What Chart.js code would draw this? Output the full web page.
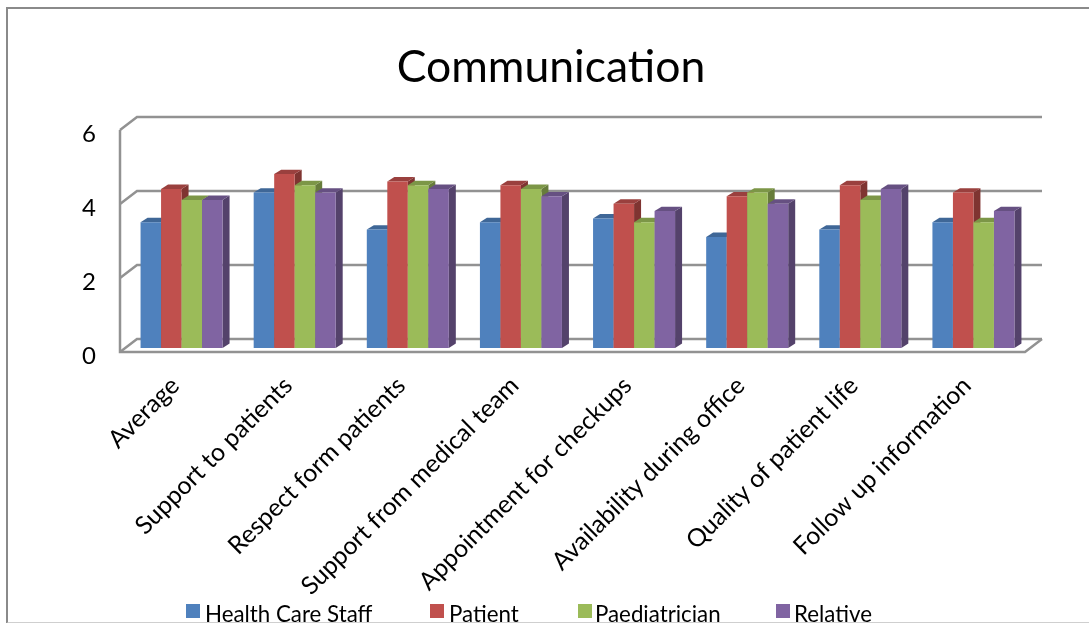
<!DOCTYPE html>
<html>
<head>
<meta charset="utf-8">
<style>
  html, body { margin: 0; padding: 0; background: #fff; overflow: hidden; }
  #frame { position: absolute; left: 6px; top: 7px; width: 1200px; height: 613px; border: 2px solid #8a8a8a; border-bottom-color: #cfcfcf; }
  canvas { position: absolute; left: 0; top: 0; }
</style>
<script src="https://cdn.jsdelivr.net/npm/chart.js@4"></script>
</head>
<body>
<div id="frame"></div>
<canvas id="chart" width="1089" height="623"></canvas>
<script>
const categories = ["Average", "Support to patients", "Respect form patients", "Support from medical team",
  "Appointment for checkups", "Availability during office", "Quality of patient life", "Follow up information"];
const healthCareStaff = [3.4, 4.2, 3.2, 3.4, 3.5, 3.0, 3.2, 3.4];
const patient         = [4.3, 4.7, 4.5, 4.4, 3.9, 4.1, 4.4, 4.2];
const paediatrician   = [4.0, 4.4, 4.4, 4.3, 3.4, 4.2, 4.0, 3.4];
const relative        = [4.0, 4.2, 4.3, 4.1, 3.7, 3.9, 4.3, 3.7];
const yTicks = [0, 2, 4, 6];

const FONT = "Lato, 'Open Sans', sans-serif";

// Face colours of the extruded bars.
const faces = {
  blue:   { front: "#4F81BD", top: "#3F6797", side: "#35577F" },
  red:    { front: "#C0504D", top: "#9A403E", side: "#7F3431" },
  green:  { front: "#9BBB59", top: "#7C9647", side: "#677C3B" },
  purple: { front: "#8064A2", top: "#665082", side: "#54426B" }
};

// Depth of each bar, and of the floor and back wall relative to the bar plane.
const BAR_DEPTH = { x: 7, y: -4.4 };
const FRONT = { x: -5, y: 4 };
const BACK = { x: 12, y: -9 };
const LEGEND_MARKS = [186, 430, 578, 776];
const LEGEND_TEXTS = [205, 449, 595, 794];

function drawBarDepth(ctx, bar, shade) {
  const { x, y, base, width } = bar.getProps(["x", "y", "base", "width"]);
  const l = x - width / 2, r = x + width / 2;
  ctx.fillStyle = shade.side;
  ctx.beginPath();
  ctx.moveTo(r, y);
  ctx.lineTo(r + BAR_DEPTH.x, y + BAR_DEPTH.y);
  ctx.lineTo(r + BAR_DEPTH.x, base + BAR_DEPTH.y);
  ctx.lineTo(r, base);
  ctx.closePath();
  ctx.fill();
  ctx.fillStyle = shade.top;
  ctx.beginPath();
  ctx.moveTo(l, y);
  ctx.lineTo(l + BAR_DEPTH.x, y + BAR_DEPTH.y);
  ctx.lineTo(r + BAR_DEPTH.x, y + BAR_DEPTH.y);
  ctx.lineTo(r, y);
  ctx.closePath();
  ctx.fill();
}

const wallPlugin = {
  id: "walls",
  // Floor and wall lines come from the value scale's ticks; the series then
  // paint left to right so each bar's depth faces hide behind its neighbour.
  beforeDatasetsDraw(chart) {
    const { ctx, chartArea: a, scales: { y } } = chart;
    ctx.save();
    ctx.strokeStyle = "#929292";
    ctx.lineWidth = 2.5;
    const fx = a.left + FRONT.x, bx = a.left + BACK.x, rx = a.right + BACK.x;
    yTicks.forEach(v => {
      const p = y.getPixelForValue(v);
      ctx.beginPath();
      ctx.moveTo(fx, p + FRONT.y);
      ctx.lineTo(bx, p + BACK.y);
      ctx.lineTo(rx, p + BACK.y);
      ctx.stroke();
    });
    const p0 = y.getPixelForValue(0), p6 = y.getPixelForValue(6);
    ctx.beginPath();
    ctx.moveTo(fx, p6 + FRONT.y);
    ctx.lineTo(fx, p0 + FRONT.y);
    ctx.lineTo(a.right + FRONT.x, p0 + FRONT.y);
    ctx.lineTo(rx, p0 + BACK.y);
    ctx.stroke();

    chart.data.datasets.forEach((d, i) => {
      const meta = chart.getDatasetMeta(i);
      meta.data.forEach(bar => drawBarDepth(ctx, bar, d.faces));
      meta.controller.draw();
    });
    ctx.restore();
  },
  beforeDatasetDraw() {
    return false;
  },
  // Legend row sits on the lower edge of the page, partly cut off.
  afterDraw(chart) {
    const { ctx } = chart;
    ctx.save();
    ctx.font = "22.3px " + FONT;
    ctx.textBaseline = "alphabetic";
    chart.data.datasets.forEach((d, i) => {
      ctx.fillStyle = d.backgroundColor;
      ctx.fillRect(LEGEND_MARKS[i], 604, 14, 14);
      ctx.fillStyle = "#000";
      ctx.fillText(d.label, LEGEND_TEXTS[i], 622);
    });
    ctx.restore();
  }
};

const series = (label, data, shade) => ({
  label, data, faces: shade,
  backgroundColor: shade.front, borderWidth: 0,
  categoryPercentage: 0.725, barPercentage: 1
});

new Chart(document.getElementById("chart"), {
  type: "bar",
  data: {
    labels: categories,
    datasets: [
      series("Health Care Staff", healthCareStaff, faces.blue),
      series("Patient", patient, faces.red),
      series("Paediatrician", paediatrician, faces.green),
      series("Relative", relative, faces.purple)
    ]
  },
  plugins: [wallPlugin],
  options: {
    responsive: false,
    animation: false,
    layout: { padding: { left: 72, right: 59, top: 0, bottom: 0 } },
    plugins: {
      legend: { display: false },
      tooltip: { enabled: false },
      title: {
        display: true,
        text: "Communication",
        color: "#000",
        font: { family: FONT, size: 44.5, weight: "normal" },
        padding: { top: 41, bottom: 31.6 }
      }
    },
    scales: {
      x: {
        grid: { display: false },
        border: { display: false },
        afterFit: s => { s.height = 275; },
        ticks: {
          autoSkip: false, minRotation: 45, maxRotation: 45, padding: 15, labelOffset: -6.5,
          color: "#000", font: { family: FONT, size: 24.8 }
        }
      },
      y: {
        min: 0, max: 6,
        grid: { display: false },
        border: { display: false },
        afterFit: s => { s.width = 53; },
        afterBuildTicks: s => { s.ticks = yTicks.map(value => ({ value })); },
        ticks: {
          padding: 21, labelOffset: 8.5,
          color: "#000", font: { family: FONT, size: 24 }
        }
      }
    }
  }
});
</script>
</body>
</html>
